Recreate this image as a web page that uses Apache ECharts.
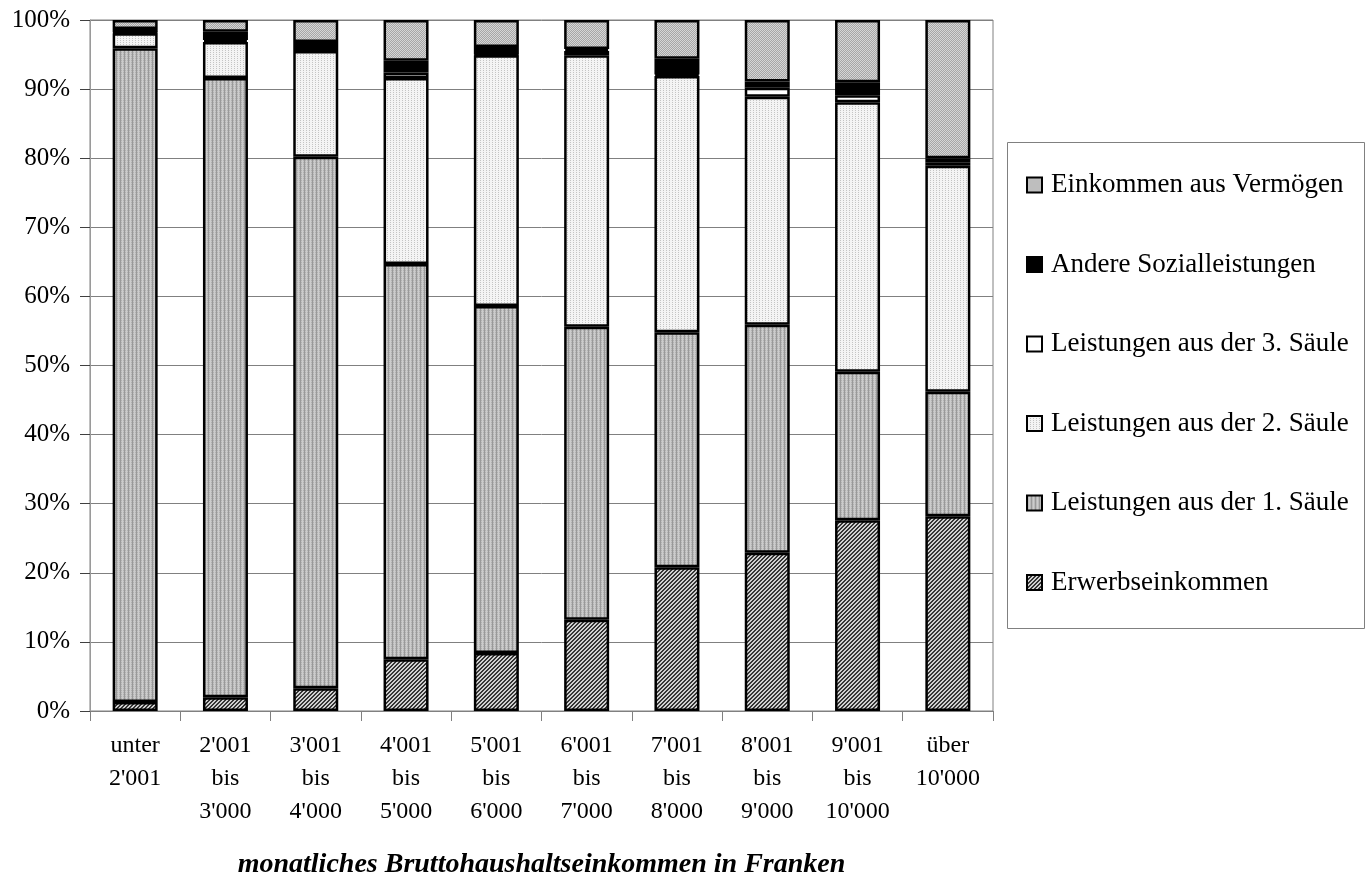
<!DOCTYPE html>
<html><head><meta charset="utf-8">
<script src="https://cdn.jsdelivr.net/npm/echarts@6/dist/echarts.min.js"></script>
<style>html,body{margin:0;padding:0;background:#fff}#c{width:1372px;height:877px}</style>
</head><body><div id="c"></div>
<script>
const categories = ["unter\n2'001","2'001\nbis\n3'000","3'001\nbis\n4'000","4'001\nbis\n5'000","5'001\nbis\n6'000","6'001\nbis\n7'000","7'001\nbis\n8'000","8'001\nbis\n9'000","9'001\nbis\n10'000","über\n10'000"];
const erwerb     = [1.3, 2.0, 3.3, 7.5, 8.4, 13.2, 20.8, 22.9, 27.6, 28.2];
const saeule1    = [94.6, 89.6, 76.9, 57.2, 50.2, 42.4, 34.0, 33.0, 21.5, 18.0];
const saeule2    = [2.2, 5.2, 15.3, 26.9, 36.3, 39.3, 37.1, 33.0, 39.0, 32.7];
const saeule3    = [0.1, 0.3, 0.6, 0.8, 0.1, 0.6, 0.2, 1.3, 1.0, 0.5];
const andere     = [0.5, 1.2, 0.7, 1.7, 1.1, 0.3, 2.3, 0.9, 1.9, 0.6];
const vermoegen  = [1.3, 1.7, 3.2, 5.9, 3.9, 4.2, 5.6, 8.9, 9.0, 20.0];
const yTicks = [0,10,20,30,40,50,60,70,80,90,100];
const names = ["Erwerbseinkommen","Leistungen aus der 1. Säule","Leistungen aus der 2. Säule","Leistungen aus der 3. Säule","Andere Sozialleistungen","Einkommen aus Vermögen"];

function pat(w,h,fn){
  const c=document.createElement('canvas');c.width=w;c.height=h;
  const g=c.getContext('2d');
  for(let y=0;y<h;y++)for(let x=0;x<w;x++){g.fillStyle=fn(x,y);g.fillRect(x,y,1,1);}
  return {image:c,repeat:'repeat'};
}
const pErwerb = pat(4,4,(x,y)=>((x+y)%4<2)?'#353535':'#d0d0d0');
const pS1 = pat(4,4,(x,y)=>{ if(x%4===0) return '#999999'; if(x%4===2) return '#cccccc'; return ((x+y)%2)?'#b0b0b0':'#c4c4c4';});
const pS2 = pat(3,2,(x,y)=>(x%3===0&&y%2===0)?'#c4c4c4':'#f4f4f4');
const pVerm = pat(2,2,(x,y)=>((x+y)%2)?'#a6a6a6':'#d6d6d6');
const fills=[pErwerb,pS1,pS2,'#ffffff','#000000',pVerm];
const datas=[erwerb,saeule1,saeule2,saeule3,andere,vermoegen];

const chart=echarts.init(document.getElementById('c'),null,{renderer:'canvas'});
const font='"Liberation Serif","Times New Roman",serif';
chart.setOption({
  animation:false,
  backgroundColor:'#fff',
  grid:{left:90,right:379,top:20,bottom:166,show:true,borderColor:'#808080',borderWidth:1,outerBoundsMode:'none',containLabel:false},
  xAxis:{type:'category',data:categories,
    axisLine:{lineStyle:{color:'#808080',width:1}},
    axisTick:{show:true,length:10,lineStyle:{color:'#808080'}},
    axisLabel:{color:'#000',fontFamily:font,fontSize:24,lineHeight:33,margin:18,interval:0},
    name:'monatliches Bruttohaushaltseinkommen in Franken',nameLocation:'middle',nameGap:140,
    nameTextStyle:{color:'#000',fontFamily:font,fontSize:28,fontWeight:'bold',fontStyle:'italic'}},
  yAxis:{type:'value',min:0,max:100,interval:10,
    axisLine:{show:true,lineStyle:{color:'#9a9a9a',width:1}},
    axisTick:{show:true,length:10,lineStyle:{color:'#404040'}},
    splitLine:{show:true,lineStyle:{color:'#808080',width:1}},
    axisLabel:{color:'#000',fontFamily:font,fontSize:25,margin:20,formatter:'{value}%'}},
  legend:{orient:'vertical',left:1021,top:165,itemGap:49.5,itemWidth:15,itemHeight:15,icon:'rect',
    data:names.slice().reverse(),
    itemStyle:{borderColor:'#000',borderWidth:2},
    textStyle:{color:'#000',fontFamily:font,fontSize:27,lineHeight:30,padding:[0,0,0,4]}},
  graphic:[{type:'rect',shape:{x:1007.5,y:142.5,width:357,height:486},style:{fill:null,stroke:'#808080',lineWidth:1},z:-1}],
  series:datas.map((d,i)=>({
    name:names[i],type:'bar',stack:'a',data:d,barWidth:45,
    itemStyle:{color:fills[i],borderColor:'#000',borderWidth:2.5},
    emphasis:{disabled:true}
  }))
});
</script></body></html>
